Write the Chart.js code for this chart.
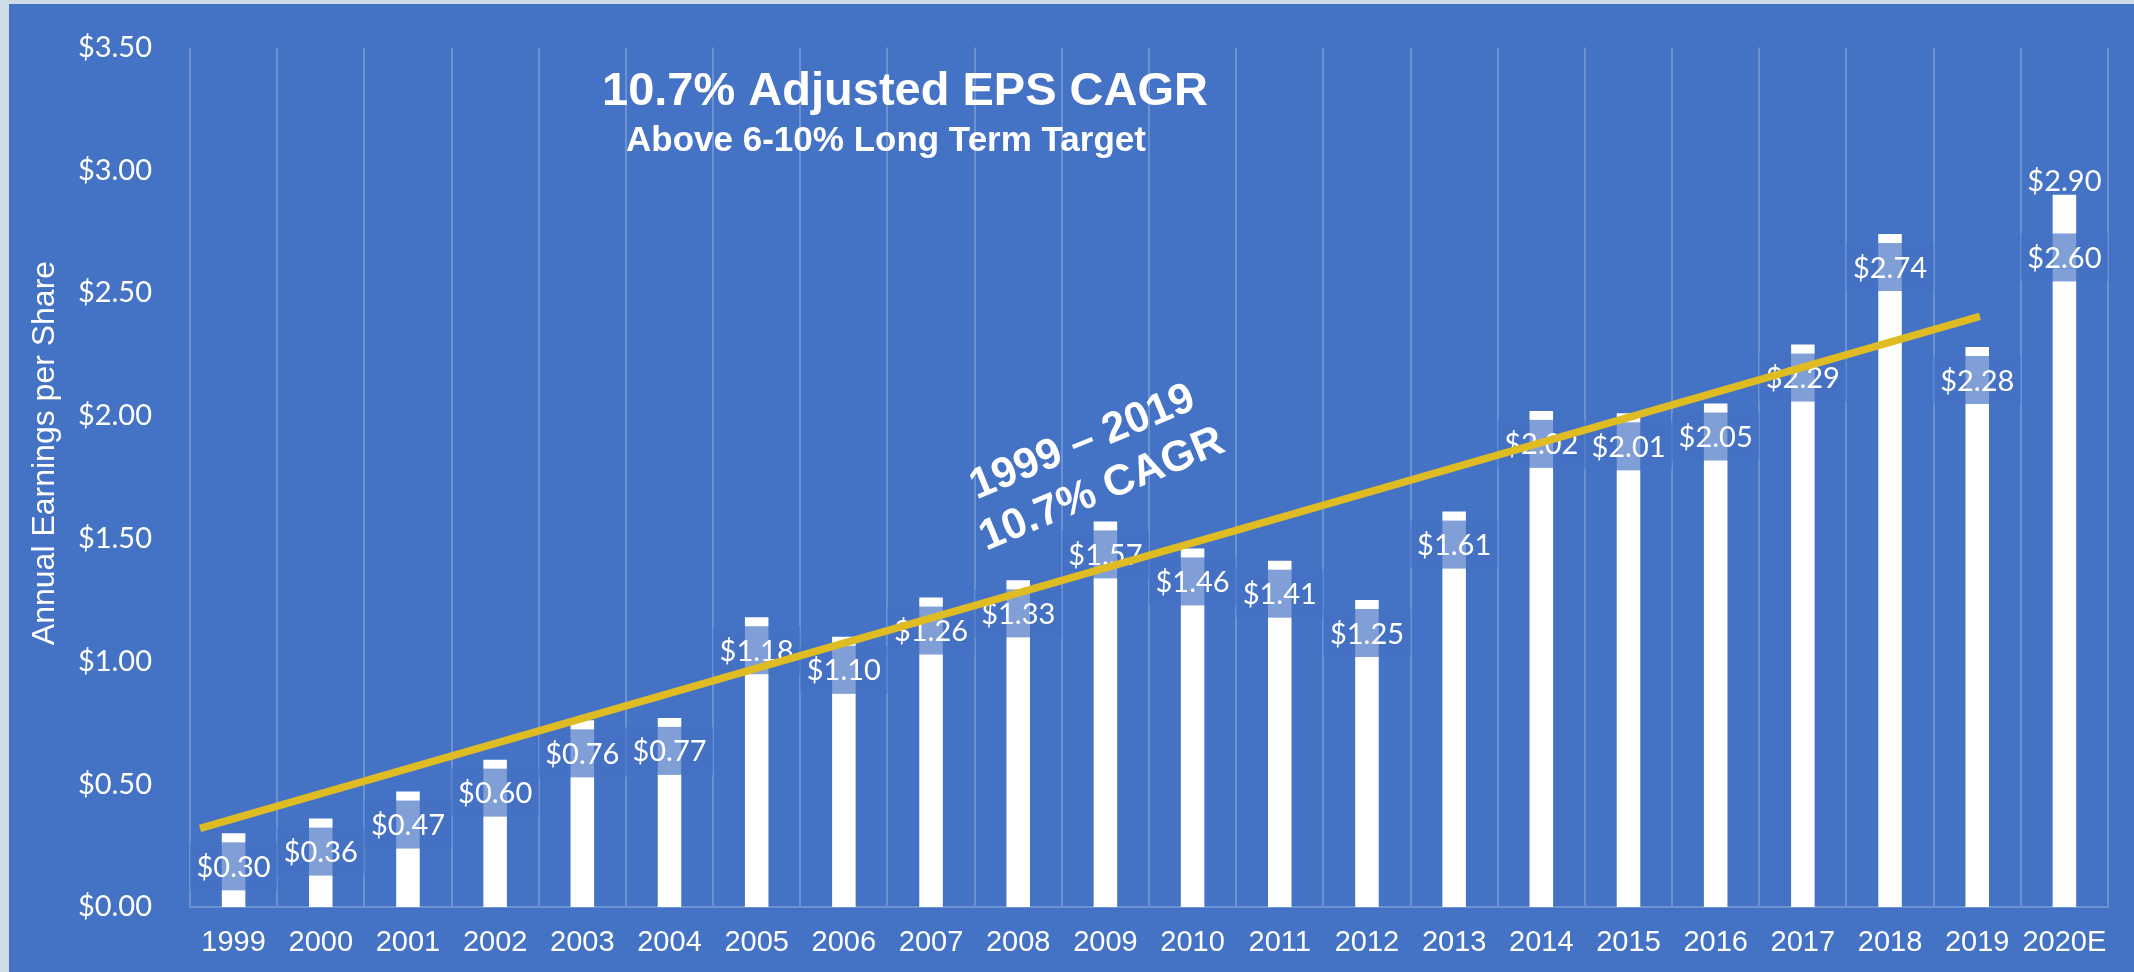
<!DOCTYPE html>
<html>
<head>
<meta charset="utf-8">
<title>Annual Earnings per Share</title>
<script src="https://cdn.jsdelivr.net/npm/chart.js@4.4.1/dist/chart.umd.min.js"></script>
<style>
  html,body{margin:0;padding:0;overflow:hidden;background:#cfdce6}
  #wrap{position:absolute;left:0;top:0;width:2134px;height:972px}
</style>
</head>
<body>
<div id="wrap"><canvas id="chart"></canvas></div>
<script>
// ---- Data ----
const years = ["1999","2000","2001","2002","2003","2004","2005","2006","2007","2008","2009",
               "2010","2011","2012","2013","2014","2015","2016","2017","2018","2019","2020E"];
const eps = [0.30,0.36,0.47,0.60,0.76,0.77,1.18,1.10,1.26,1.33,1.57,
             1.46,1.41,1.25,1.61,2.02,2.01,2.05,2.29,2.74,2.28,2.60]; // 2020E = low end of guidance
const guidanceHigh = 2.90;              // 2020E top of guidance range
const trendX = [-0.385, 20.03];         // trend line ends, in category index units
const trendY = [0.32, 2.405];
const yMax = 3.5, yStep = 0.5;

// ---- Colours / fonts ----
const BLUE = "#4472c4";
const GOLD = "#dfbb24";
const GRID = "rgba(255,255,255,0.22)";
const LABEL_BOX = "rgba(68,114,196,0.68)";
const NUM_FONT = "Lato, 'Open Sans', sans-serif";
const TXT_FONT = "'Liberation Sans', Arial, sans-serif";

const last = years.length - 1;
const money = v => "$" + v.toFixed(2);

// background: light frame on the left/top, blue slide body
const bgPlugin = {
  id: "bg",
  beforeDraw(chart){
    const {ctx, width, height} = chart;
    ctx.save();
    ctx.fillStyle = "#cfdce6"; ctx.fillRect(0,0,width,height);
    ctx.fillStyle = BLUE; ctx.fillRect(9,4,width-9,height-4);
    ctx.restore();
  }
};

// value labels with a translucent box, drawn after the bars but under the trend line
const labelPlugin = {
  id: "labels",
  afterDatasetDraw(chart, args){
    if (args.index !== 1) return;
    const {ctx} = chart, xs = chart.scales.x, ys = chart.scales.y;
    const w = xs.getPixelForValue(1) - xs.getPixelForValue(0);
    ctx.save();
    ctx.font = "29px " + NUM_FONT;
    ctx.textAlign = "center"; ctx.textBaseline = "alphabetic";
    eps.forEach((v,i)=>{
      const cx = xs.getPixelForValue(i);
      const top = ys.getPixelForValue(v);
      const cy = (i === last) ? top - 11 : top + 33;
      ctx.fillStyle = LABEL_BOX;
      ctx.fillRect(cx - w/2, cy - 24, w, 48);
      ctx.fillStyle = "#fff";
      ctx.fillText(money(v), cx, cy + 10.5);
    });
    const hiTop = ys.getPixelForValue(guidanceHigh);
    ctx.fillText(money(guidanceHigh), xs.getPixelForValue(last), hiTop - 4);
    ctx.restore();
  }
};

// titles, axis title and the rotated CAGR note
const textPlugin = {
  id: "texts",
  afterDraw(chart){
    const {ctx} = chart;
    ctx.save();
    ctx.fillStyle = "#fff";
    ctx.textAlign = "center"; ctx.textBaseline = "alphabetic";
    ctx.font = "bold 47px " + TXT_FONT;
    ctx.fillText("10.7% Adjusted EPS CAGR", 905, 105);
    ctx.font = "bold 35px " + TXT_FONT;
    ctx.fillText("Above 6-10% Long Term Target", 886, 151);

    // y axis title
    ctx.save();
    ctx.translate(45, 453); ctx.rotate(-Math.PI/2);
    ctx.font = "32px " + TXT_FONT; ctx.textBaseline = "middle";
    ctx.fillText("Annual Earnings per Share", 0, 0);
    ctx.restore();

    // note along the trend line
    ctx.save();
    ctx.translate(1091, 463); ctx.rotate(-22.5*Math.PI/180);
    ctx.font = "bold 43px " + TXT_FONT;
    ctx.fillText("1999 \u2013 2019", 0, -25.5 + 15.4);
    ctx.fillText("10.7% CAGR", 0, 25.5 + 15.4);
    ctx.restore();
    ctx.restore();
  }
};

new Chart(document.getElementById("chart"), {
  data: {
    labels: years,
    datasets: [
      { type:"bar", label:"Adjusted EPS", data: eps, order:2, grouped:false,
        backgroundColor:"#fff", borderWidth:0, barPercentage:0.27, categoryPercentage:1 },
      { type:"bar", label:"2020E guidance", order:1, grouped:false,
        data: years.map((y,i)=> i === last ? [eps[i], guidanceHigh] : null),
        backgroundColor:"#fff", borderWidth:0, barPercentage:0.27, categoryPercentage:1 },
      { type:"line", label:"Trend", xAxisID:"xt", order:0,
        data: trendX.map((x,i)=>({x, y: trendY[i]})),
        borderColor: GOLD, borderWidth: 7.5, borderCapStyle:"butt",
        pointRadius:0, fill:false, tension:0 }
    ]
  },
  options: {
    responsive:true, maintainAspectRatio:false, animation:false,
    layout:{ padding:{ top:38, right:26, left:0, bottom:0 } },
    plugins:{ legend:{display:false}, tooltip:{enabled:false}, title:{display:false} },
    scales:{
      x:{
        type:"category", offset:true,
        grid:{ display:true, offset:true, color:GRID, lineWidth:2, drawTicks:false },
        border:{ display:true, color:GRID, width:2 },
        ticks:{ color:"#fff", font:{ family:TXT_FONT, size:29 }, padding:19, maxRotation:0, autoSkip:false },
        afterFit(s){ s.height = 65; }
      },
      xt:{ type:"linear", display:false, min:-0.5, max:years.length - 0.5 },
      y:{
        min:0, max:yMax,
        grid:{ display:false },
        border:{ display:false },
        ticks:{ stepSize:yStep, color:"#fff", font:{ family:NUM_FONT, size:29 }, padding:30,
                callback: v => money(v) },
        afterFit(s){ s.width = 190; }
      }
    }
  },
  plugins:[bgPlugin, labelPlugin, textPlugin]
});
</script>
</body>
</html>
